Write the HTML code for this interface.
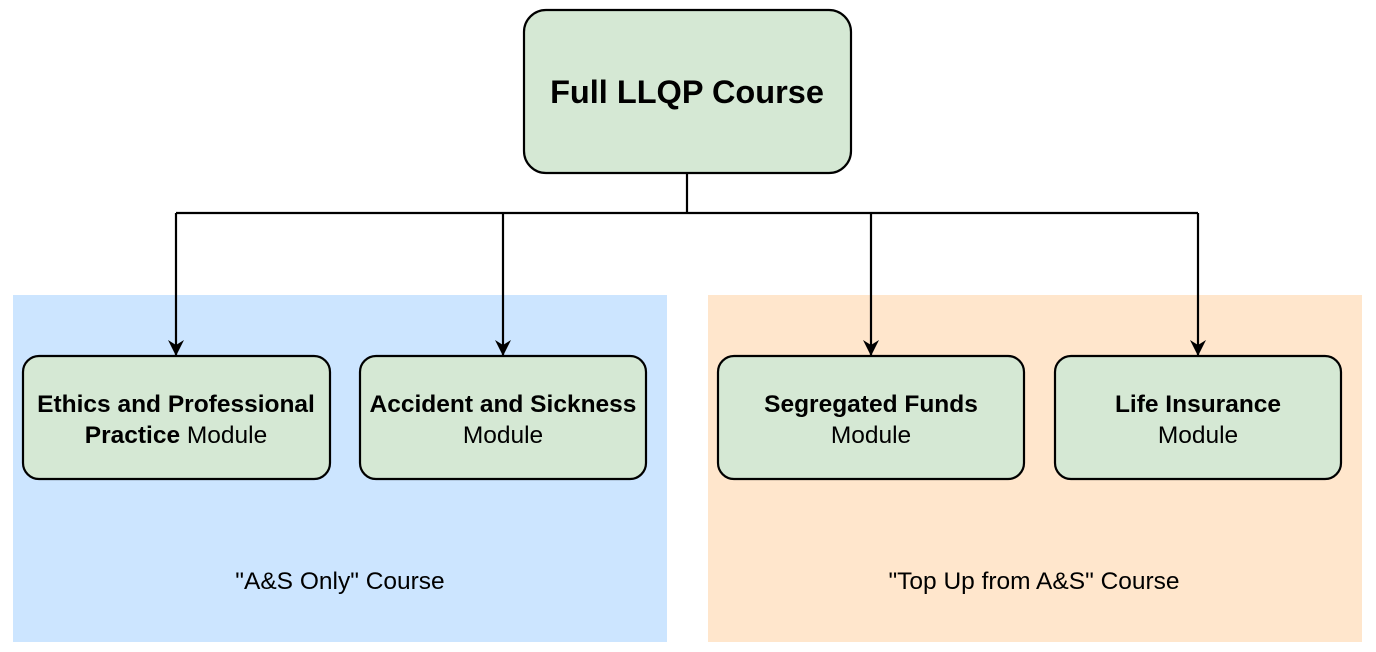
<!DOCTYPE html>
<html><head><meta charset="utf-8"><style>
html,body{margin:0;padding:0;background:#fff;width:1376px;height:652px;overflow:hidden}
svg{display:block}
text{font-family:"Liberation Sans",Arial,sans-serif;fill:#000}
</style></head><body>
<svg width="1376" height="652" viewBox="0 0 1376 652">
<defs>
<marker id="b" viewBox="0 0 16 16" markerWidth="16" markerHeight="16" refX="15" refY="8" orient="auto" markerUnits="userSpaceOnUse">
<path d="M0,0 L16,8 L0,16 L5,8 Z" fill="#000"/></marker></defs>
<rect x="13" y="295" width="654" height="347" fill="#cce5ff"/>
<rect x="708" y="295" width="654" height="347" fill="#ffe6cc"/>
<rect x="524" y="10" width="327" height="163" rx="22" fill="#d5e8d4" stroke="#000" stroke-width="2.2"/>
<text x="687" y="103" font-size="32.5" font-weight="bold" text-anchor="middle">Full LLQP Course</text>
<g stroke="#000" stroke-width="2.2" fill="none">
<path d="M687,173 V213 M176,213 H1198"/>
<path d="M176,213 V355" marker-end="url(#b)"/>
<path d="M503,213 V355" marker-end="url(#b)"/>
<path d="M871,213 V355" marker-end="url(#b)"/>
<path d="M1198,213 V355" marker-end="url(#b)"/>
</g>
<g fill="#d5e8d4" stroke="#000" stroke-width="2.2">
<rect x="23" y="356" width="307" height="123" rx="16"/>
<rect x="360" y="356" width="286" height="123" rx="16"/>
<rect x="718" y="356" width="306" height="123" rx="16"/>
<rect x="1055" y="356" width="286" height="123" rx="16"/>
</g>
<g font-size="24.5" text-anchor="middle">
<text x="176" y="412" font-weight="bold">Ethics and Professional</text>
<text x="176" y="443"><tspan font-weight="bold">Practice</tspan> Module</text>
<text x="503" y="412" font-weight="bold">Accident and Sickness</text>
<text x="503" y="443">Module</text>
<text x="871" y="412" font-weight="bold">Segregated Funds</text>
<text x="871" y="443">Module</text>
<text x="1198" y="412" font-weight="bold">Life Insurance</text>
<text x="1198" y="443">Module</text>
<text x="340" y="589">"A&amp;S Only" Course</text>
<text x="1034" y="589">"Top Up from A&amp;S" Course</text>
</g>
</svg>
</body></html>
